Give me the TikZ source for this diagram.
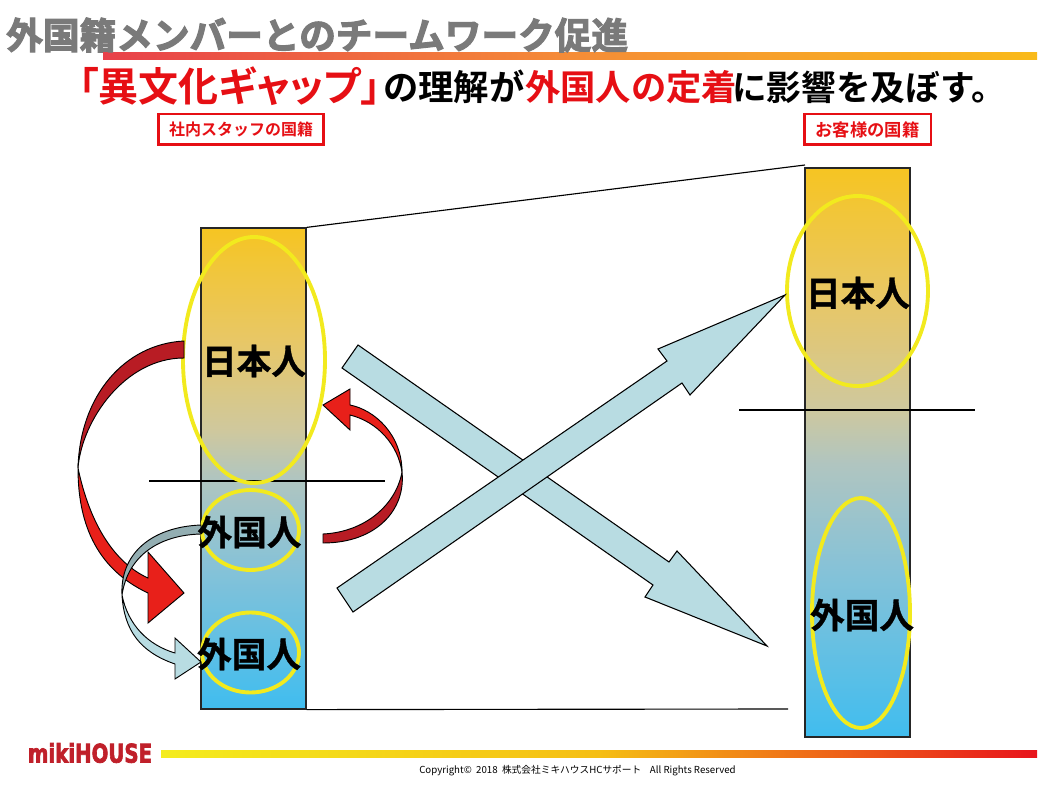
\documentclass[tikz,border=0pt]{standalone}
\usepackage{fontspec}
\setmainfont{Noto Sans CJK JP}[BoldFont={Noto Sans CJK JP Bold}]
\newfontfamily\heavyjp{Noto Sans CJK JP Bold}[FakeBold=3]
\newfontfamily\labeljp{Noto Sans CJK JP Bold}[FakeBold=1]
\newfontfamily\pboldjp{Noto Sans CJK JP Bold}[RawFeature=+palt]
\newfontfamily\logofont{DejaVu Sans Bold}[FakeBold=3]
\definecolor{titlegray}{HTML}{7A7A7A}
\definecolor{hdred}{HTML}{E60F14}
\definecolor{barA}{HTML}{F6C522}
\definecolor{barB}{HTML}{E8C765}
\definecolor{barC}{HTML}{CFC89D}
\definecolor{barD}{HTML}{B0C5C0}
\definecolor{barE}{HTML}{85C2D8}
\definecolor{barF}{HTML}{40BDEF}
\pgfdeclareverticalshading{barshade}{100bp}{color(0bp)=(barF);color(25bp)=(barF);color(39.5bp)=(barE);color(49bp)=(barD);color(54bp)=(barC);color(63.5bp)=(barB);color(75bp)=(barA);color(100bp)=(barA)}
\definecolor{ringY}{HTML}{F2EA1E}
\definecolor{paleA}{HTML}{B8DCE2}
\definecolor{paleD}{HTML}{93AEB2}
\definecolor{redB}{HTML}{E8201A}
\definecolor{redD}{HTML}{B81C24}
\definecolor{ruleA}{HTML}{E8404A}
\definecolor{ruleB}{HTML}{F58C37}
\definecolor{ruleC}{HTML}{F9BA1A}
\definecolor{footA}{HTML}{F4EC1E}
\definecolor{footB}{HTML}{F5BE14}
\definecolor{footC}{HTML}{E8141C}
\definecolor{logored}{HTML}{C0202A}
\tikzset{
  colbar/.style={draw=black!85,line width=0.9pt,inner sep=0,minimum width=78.75pt,shade,shading=barshade},
  ring/.style={draw=ringY,line width=2.9pt},
  rulerline/.style={draw=black,line width=0.85pt},
  bigtxt/.style={font=\labeljp\fontsize{26}{28}\selectfont,text=black,inner sep=0},
  tagbox/.style={draw=hdred,line width=2pt,text=hdred,inner sep=0},
  outl/.style={draw=black,line width=0.7pt,line join=miter},
  hdtxt/.style={inner sep=0,anchor=west},
}
\begin{document}
\begin{tikzpicture}[x=0.75pt,y=-0.75pt]
\useasboundingbox (0,0) rectangle (1050,788);
\fill[white] (0,0) rectangle (1050,788);
% rules
\shade[left color=ruleA,right color=ruleC,middle color=ruleB] (103,53) rectangle (1037,60);
\shade[left color=footA,right color=footC,middle color=footB] (161,750) rectangle (1037,757);
% title
\node[font=\heavyjp\fontsize{27.5}{30}\selectfont,text=titlegray,anchor=west,inner sep=0] (title) at (6,35) {外国籍メンバーとのチームワーク促進};
% heading
\node[hdtxt,font=\pboldjp\fontsize{30}{32}\selectfont,text=hdred] (h1) at (78.5,86) {「異文化ギャップ」};
\node[hdtxt,font=\bfseries\fontsize{26.5}{28}\selectfont,text=black] (h2) at (383,87) {の理解が};
\node[hdtxt,font=\bfseries\fontsize{26.5}{28}\selectfont,text=hdred] (h3) at (525,87) {外国人の定着};
\node[hdtxt,font=\bfseries\fontsize{26}{28}\selectfont,text=black] (h4) at (732,87) {に影響を及ぼす。};
% tags
\node[tagbox,minimum width=124pt,minimum height=23pt,font=\bfseries\fontsize{12}{14}\selectfont] (tagL) at (241,129.5) {社内スタッフの国籍};
\node[tagbox,minimum width=95pt,minimum height=23pt,font=\bfseries\fontsize{13}{15}\selectfont] (tagR) at (867.5,129.5) {お客様の国籍};
% bars
\node[colbar,minimum height=360.75pt] (barL) at (253.5,468.5) {};
\node[colbar,minimum height=426.75pt] (barR) at (857.5,452.5) {};
% connectors between bars
\coordinate (topend) at (805,165);
\coordinate (botend) at (788,709);
\draw[rulerline] (barL.north east) -- (topend);
\draw[rulerline] (barL.south east) -- (botend);
% dividers
\coordinate (dLa) at (149,481); \coordinate (dLb) at (385,481);
\coordinate (dRa) at (739,410); \coordinate (dRb) at (975,410);
\draw[rulerline] (dLa) -- (dLb);
\draw[rulerline] (dRa) -- (dRb);
% rings
\draw[ring] (254,360) ellipse (71 and 123);
\draw[ring] (250.5,530) ellipse (48.5 and 40);
\draw[ring] (250.5,652.5) ellipse (48.5 and 40);
\draw[ring] (857.5,291) ellipse (70.5 and 95);
\draw[ring] (861,613) ellipse (49 and 115);
% big crossing arrows
\draw[outl,line width=0.8pt,fill=paleA] (342,368) -- (358,345) -- (669,562) -- (677,551) -- (767,646) -- (645,597) -- (653,585) -- cycle;
\draw[outl,line width=0.8pt,fill=paleA] (337,588) -- (353,612) -- (682,383) -- (690,395) -- (785,295) -- (658,349) -- (667,361) -- cycle;
% big red curved arrow
\draw[outl,fill=redD] (184,341) .. controls (125,344) and (80,395) .. (78,468) .. controls (82,420) and (125,358) .. (184,358) -- cycle;
\draw[outl,fill=redB] (78,468) .. controls (78,510) and (88,565) .. (148,593) -- (148,623) -- (184,593) -- (148,552) -- (148,578) .. controls (115,563) and (90,525) .. (78,468) -- cycle;
% right red curved arrow
\draw[outl,fill=redD] (402,472) .. controls (406,510) and (376,543) .. (323,543) -- (323,534) .. controls (365,532) and (396,505) .. (402,472) -- cycle;
\draw[outl,fill=redB] (402,472) .. controls (402,435) and (375,410) .. (350,405) -- (350,389) -- (323,405) -- (350,430) -- (350,415) .. controls (378,422) and (398,445) .. (402,472) -- cycle;
% pale curved arrow
\draw[outl,fill=paleD] (122,595) .. controls (120,555) and (150,527) .. (201,525) -- (201,534) .. controls (160,535) and (128,555) .. (122,595) -- cycle;
\draw[outl,fill=paleA] (122,595) .. controls (124,630) and (140,652) .. (175,664) -- (175,679) -- (201,662) -- (175,638) -- (175,653) .. controls (148,645) and (128,625) .. (122,595) -- cycle;
% labels
\node[bigtxt] (jpL) at (254,361) {日本人};
\node[bigtxt] (frL1) at (249.5,532) {外国人};
\node[bigtxt] (frL2) at (249,654) {外国人};
\node[bigtxt] (jpR) at (858,293) {日本人};
\node[bigtxt] (frR) at (862,615) {外国人};
% logo
\node[font=\logofont\fontsize{14.8}{16}\selectfont,text=logored,inner sep=0] (logo) at (90,753) {\scalebox{1}[1.3]{mikiHOUSE}};
% copyright
\node[font=\fontsize{7.27}{9}\selectfont,text=black,inner sep=0] (copy) at (577.5,771) {Copyright©\ \ 2018\ \ 株式会社ミキハウスHCサポート\ \ \ \ All Rights Reserved};
\end{tikzpicture}
\end{document}
